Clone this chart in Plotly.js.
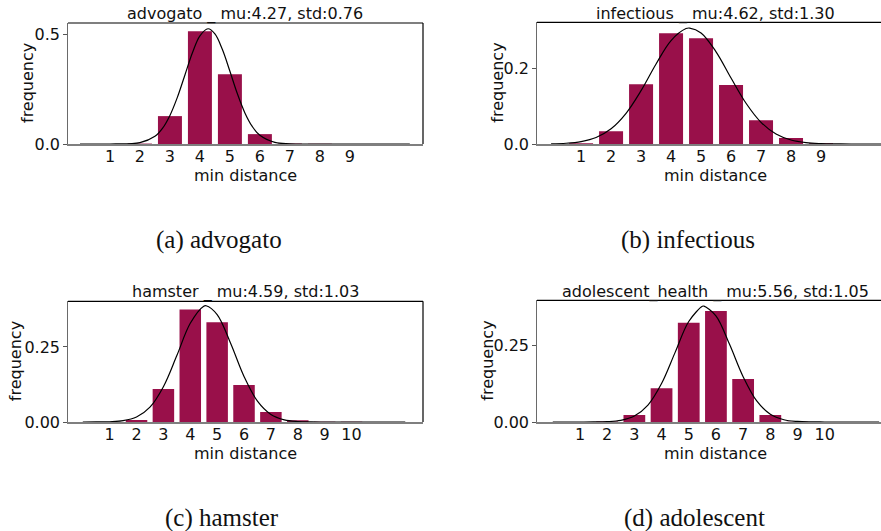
<!DOCTYPE html>
<html><head><meta charset="utf-8">
<script src="https://cdn.plot.ly/plotly-3.0.1.min.js"></script>
<style>html,body{margin:0;padding:0;background:#fff;}</style>
</head><body><div id="chart" style="width:881px;height:531px;"></div>
<script>
// ---- data ----
const advogatoX = [0,1,2,3,4,5,6,7,8,9,10,11];
const advogatoFreq = [0,0,0.002,0.127,0.514,0.318,0.045,0.002,0.001,0,0,0];
const advogatoCurveX = [0,1,2,2.5,2.75,3,3.25,3.5,3.75,4,4.27,4.5,4.75,5,5.25,5.5,5.75,6,6.5,7,8,11];
const advogatoCurveY = [0,0.00005,0.0061,0.0349,0.0710,0.130,0.2133,0.3142,0.4154,0.4928,0.5249,0.5014,0.4300,0.3310,0.2285,0.1417,0.0789,0.0394,0.0071,0.0008,0,0];

const infectiousX = [0,1,2,3,4,5,6,7,8,9,10,11];
const infectiousFreq = [0,0.002,0.034,0.158,0.293,0.280,0.156,0.063,0.016,0.002,0,0];
const infectiousCurveX = [0,0.5,1,1.5,2,2.5,3,3.5,4,4.5,4.62,5,5.5,6,6.5,7,7.5,8,8.5,9,9.5,10,11];
const infectiousCurveY = [0.0006,0.0020,0.0064,0.0172,0.0403,0.0812,0.1412,0.2118,0.2739,0.3056,0.3069,0.2941,0.2441,0.1747,0.1079,0.0574,0.0264,0.0105,0.0036,0.0011,0.0003,0.00003,0];

const hamsterX = [0,1,2,3,4,5,6,7,8,9,10,11,12];
const hamsterFreq = [0,0,0.007,0.110,0.375,0.332,0.123,0.033,0.006,0.001,0.0005,0,0];
const hamsterCurveX = [0,0.5,1,1.5,2,2.5,3,3.5,4,4.5,4.59,5,5.5,6,6.5,7,7.5,8,8.5,9,10,12];
const hamsterCurveY = [0.00002,0.00015,0.0009,0.0043,0.0164,0.0494,0.1176,0.2212,0.3287,0.3858,0.3873,0.3578,0.2622,0.1517,0.0694,0.0251,0.0072,0.0016,0.0003,0.00004,0,0];

const adolescentX = [0,1,2,3,4,5,6,7,8,9,10,11,12];
const adolescentFreq = [0,0,0.002,0.023,0.111,0.325,0.364,0.141,0.023,0.001,0,0,0];
const adolescentCurveX = [0,1,1.5,2,2.5,3,3.5,4,4.5,5,5.5,5.56,6,6.5,7,7.5,8,8.5,9,9.5,10,11,12];
const adolescentCurveY = [0,0.00003,0.0002,0.0012,0.0054,0.0194,0.0554,0.1260,0.2282,0.3295,0.3793,0.3799,0.3480,0.2545,0.1484,0.0689,0.0255,0.0075,0.0018,0.0003,0.00005,0,0];

const titles = ["advogato _ mu:4.27, std:0.76","infectious _ mu:4.62, std:1.30","hamster _ mu:4.59, std:1.03","adolescent_health _ mu:5.56, std:1.05"];
const captions = ["(a) advogato","(b) infectious","(c) hamster","(d) adolescent"];
const xTicks = [[1,2,3,4,5,6,7,8,9],[1,2,3,4,5,6,7,8,9],[1,2,3,4,5,6,7,8,9,10],[1,2,3,4,5,6,7,8,9,10]];
const yTickVals = [[0,0.5],[0,0.2],[0,0.25],[0,0.25]];
const yTickText = [["0.0","0.5"],["0.0","0.2"],["0.00","0.25"],["0.00","0.25"]];

// ---- layout geometry ----
const W = 881, H = 531;
const barColor = '#99104a';
const font = {family:'DejaVu Sans', size:16, color:'#111'};
const panels = [
  {bx:advogatoX, by:advogatoFreq, cx:advogatoCurveX, cy:advogatoCurveY, left:68, right:423, top:23, bottom:144, xr:[-0.4,11.44], yr:[0,0.551], titleX:245.5, titleY:14, ylabX:27.5, capX:219, capY:240, right_spine:true},
  {bx:infectiousX, by:infectiousFreq, cx:infectiousCurveX, cy:infectiousCurveY, left:537, right:881, top:22.3, bottom:144, xr:[-0.47,11.0], yr:[0,0.3222], titleX:715.5, titleY:14, ylabX:497.5, capX:688, capY:240, right_spine:false},
  {bx:hamsterX, by:hamsterFreq, cx:hamsterCurveX, cy:hamsterCurveY, left:68, right:423, top:301.3, bottom:422, xr:[-0.55,12.66], yr:[0,0.402], titleX:245.5, titleY:291.5, ylabX:15.5, capX:222, capY:518, right_spine:true},
  {bx:adolescentX, by:adolescentFreq, cx:adolescentCurveX, cy:adolescentCurveY, left:537, right:881, top:300.3, bottom:422, xr:[-0.58,12.07], yr:[0,0.3989], titleX:715.5, titleY:291.5, ylabX:487.5, capX:694, capY:518, right_spine:false}
];

const traces = [];
const layout = {width:W, height:H, margin:{l:0,r:0,t:0,b:0}, paper_bgcolor:'#fff', plot_bgcolor:'#fff', showlegend:false, font:font, annotations:[], shapes:[]};

panels.forEach((p,i)=>{
  const n = i+1;
  const xa = 'x'+(n===1?'':n), ya = 'y'+(n===1?'':n);
  const xk = 'xaxis'+(n===1?'':n), yk = 'yaxis'+(n===1?'':n);
  traces.push({type:'bar', x:p.bx, y:p.by, width:0.8, marker:{color:barColor, line:{width:0}}, xaxis:xa, yaxis:ya, hoverinfo:'skip'});
  traces.push({type:'scatter', mode:'lines', x:p.cx, y:p.cy, line:{color:'#000', width:1.2, shape:'spline', smoothing:1}, xaxis:xa, yaxis:ya, hoverinfo:'skip'});
  layout[xk] = {domain:[p.left/W, Math.min(1,p.right/W)], range:p.xr, anchor:ya, tickmode:'array', tickvals:xTicks[i], ticktext:xTicks[i].map(String), ticks:'', ticklabelstandoff:-3, showgrid:false, zeroline:false, showline:true, linecolor:'#7f7f7f', linewidth:2, tickfont:font, fixedrange:true};
  layout[yk] = {domain:[1-p.bottom/H, 1-p.top/H], range:p.yr, anchor:xa, tickmode:'array', tickvals:yTickVals[i], ticktext:yTickText[i], ticks:'outside', ticklen:3.5, tickcolor:'#555', tickwidth:1, showgrid:false, zeroline:false, showline:true, linecolor:'#6a6a6a', linewidth:1.3, tickfont:font, fixedrange:true};
  // top spine
  layout.shapes.push({type:'line', xref:xa+' domain', yref:ya+' domain', x0:0, x1:1, y0:1, y1:1, line:{color:'#000', width:1.2}});
  if (p.right_spine) layout.shapes.push({type:'line', xref:xa+' domain', yref:ya+' domain', x0:1, x1:1, y0:0, y1:1, line:{color:'#000', width:1.2}});
  // title
  layout.annotations.push({text:titles[i], xref:'paper', yref:'paper', x:p.titleX/W, y:1-p.titleY/H, xanchor:'center', yanchor:'middle', showarrow:false, font:font});
  // y label
  layout.annotations.push({text:'frequency', xref:'paper', yref:'paper', x:p.ylabX/W, y:1-((p.top+p.bottom)/2)/H, xanchor:'center', yanchor:'middle', textangle:-90, showarrow:false, font:font});
  // x label
  layout.annotations.push({text:'min distance', xref:'paper', yref:'paper', x:p.titleX/W, y:1-(p.bottom+31)/H, xanchor:'center', yanchor:'middle', showarrow:false, font:font});
  // caption
  layout.annotations.push({text:captions[i], xref:'paper', yref:'paper', x:p.capX/W, y:1-p.capY/H, xanchor:'center', yanchor:'middle', showarrow:false, font:{family:'Liberation Serif', size:25, color:'#111'}});
});

Plotly.newPlot('chart', traces, layout, {displayModeBar:false, staticPlot:true});
</script>
</body></html>
